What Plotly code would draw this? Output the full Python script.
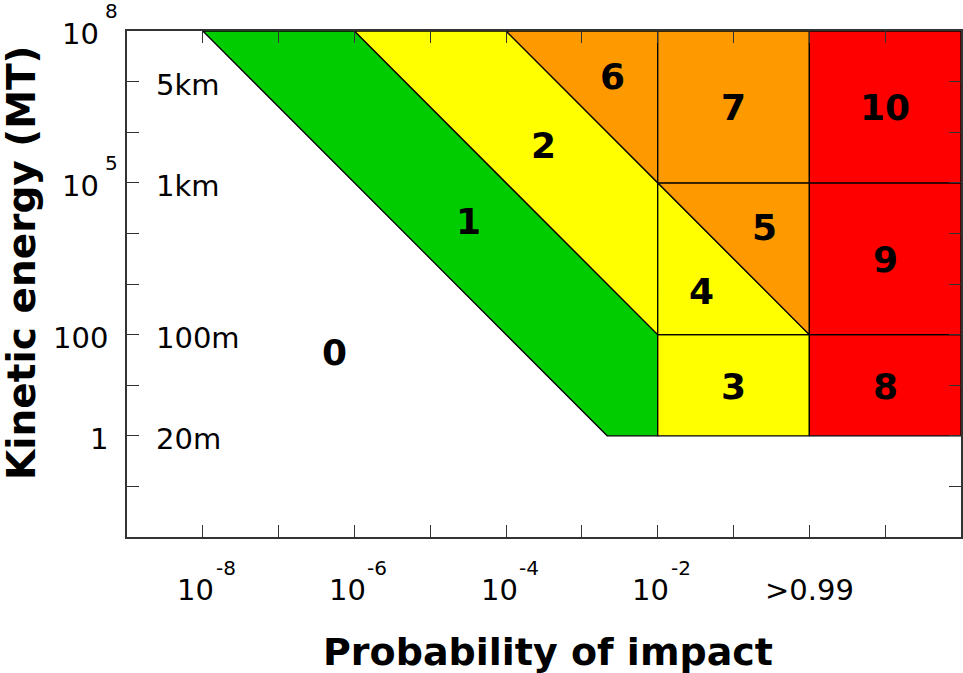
import plotly.graph_objects as go

# Torino scale regions: vertices in log10(probability) and log10(kinetic energy, MT)
levels = [1, 2, 3, 4, 5, 6, 7, 8, 9, 10]
region_logp = [
    [-8, -6, -2, -2, -8 / 3],  # 1
    [-6, -4, -2, -2],          # 2
    [-2, 0, 0, -2],            # 3
    [-2, 0, -2],               # 4
    [-2, 0, 0],                # 5
    [-4, -2, -2],              # 6
    [-2, 0, 0, -2],            # 7
    [0, 2, 2, 0],              # 8
    [0, 2, 2, 0],              # 9
    [0, 2, 2, 0],              # 10
]
region_logE = [
    [8, 8, 2, 0, 0],
    [8, 8, 5, 2],
    [0, 0, 2, 2],
    [5, 2, 2],
    [5, 5, 2],
    [8, 8, 5],
    [5, 5, 8, 8],
    [0, 0, 2, 2],
    [2, 2, 5, 5],
    [5, 5, 8, 8],
]
region_colors = ["#00CC00", "#FFFF00", "#FFFF00", "#FFFF00", "#FF9900",
                 "#FF9900", "#FF9900", "#FF0000", "#FF0000", "#FF0000"]

# label positions for each level (0..10)
label_text = ["0", "1", "2", "3", "4", "5", "6", "7", "8", "9", "10"]
label_logp = [-6.26, -4.5, -3.51, -1.0, -1.42, -0.59, -2.6, -1.0, 1.0, 1.0, 1.0]
label_logE = [1.64, 4.23, 5.73, 0.98, 2.86, 4.11, 7.11, 6.48, 0.98, 3.49, 6.48]

# axis ticks (log10 units)
x_tickvals = [-8, -7, -6, -5, -4, -3, -2, -1, 0, 1, 2]
y_tickvals = [-2, -1, 0, 1, 2, 3, 4, 5, 6, 7, 8]
# labelled x ticks: base and exponent
x_label_vals = [-8, -6, -4, -2]
x_label_exps = ["-8", "-6", "-4", "-2"]
x_plain_vals = [0]
x_plain_text = [">0.99"]
# labelled y ticks
y_pow_vals = [8, 5]
y_pow_exps = ["8", "5"]
y_plain_vals = [2, 0]
y_plain_text = ["100", "1"]

size_text = ["5km", "1km", "100m", "20m"]
size_logE = [7, 5, 2, 0]

FONT = "DejaVu Sans"
fig = go.Figure()
for lv, xs, ys, c in zip(levels, region_logp, region_logE, region_colors):
    fig.add_trace(go.Scatter(
        x=xs + [xs[0]], y=ys + [ys[0]], mode="lines", fill="toself",
        fillcolor=c, line=dict(color="black", width=1.3),
        hoverinfo="skip", showlegend=False, name=str(lv)))

for t, x, y in zip(label_text, label_logp, label_logE):
    fig.add_annotation(x=x, y=y, text="<b>" + t + "</b>", showarrow=False,
                       font=dict(size=36, color="black", family=FONT))

for t, y in zip(size_text, size_logE):
    fig.add_annotation(xref="paper", x=0, xshift=27, xanchor="left", y=y, yshift=-3, text=t,
                       showarrow=False, font=dict(size=29, color="black", family=FONT))

# x tick labels
for v, e in zip(x_label_vals, x_label_exps):
    fig.add_annotation(x=v, xshift=-7, yref="paper", y=-0.1057, xanchor="center",
                       yanchor="middle", text="10", showarrow=False,
                       font=dict(size=29, color="black", family=FONT))
    fig.add_annotation(x=v, xshift=23, yref="paper", y=-0.0613, xanchor="center",
                       yanchor="middle", text=e, showarrow=False,
                       font=dict(size=20, color="black", family=FONT))
for v, t in zip(x_plain_vals, x_plain_text):
    fig.add_annotation(x=v, yref="paper", y=-0.1057, xanchor="center",
                       yanchor="middle", text=t, showarrow=False,
                       font=dict(size=29, color="black", family=FONT))
# y tick labels
for v, e in zip(y_pow_vals, y_pow_exps):
    fig.add_annotation(xref="paper", x=0, xshift=-47, y=v, yshift=-3, xanchor="center",
                       yanchor="middle", text="10", showarrow=False,
                       font=dict(size=29, color="black", family=FONT))
    fig.add_annotation(xref="paper", x=0, xshift=-16, y=v, yshift=20, xanchor="center",
                       yanchor="middle", text=e, showarrow=False,
                       font=dict(size=20, color="black", family=FONT))
for v, t in zip(y_plain_vals, y_plain_text):
    fig.add_annotation(xref="paper", x=0, xshift=-17, y=v, yshift=-3, xanchor="right",
                       yanchor="middle", text=t, showarrow=False,
                       font=dict(size=29, color="black", family=FONT))

fig.add_annotation(xref="paper", yref="paper", x=0.505, y=-0.227, xanchor="center",
                   yanchor="middle", text="<b>Probability of impact</b>", showarrow=False,
                   font=dict(size=38, color="black", family=FONT))
fig.add_annotation(xref="paper", yref="paper", x=0, xshift=-106, y=0.5415,
                   xanchor="center", yanchor="middle", borderpad=0,
                   text="<b>Kinetic energy (MT)</b>", textangle=-90, showarrow=False,
                   font=dict(size=39, color="black", family=FONT))

axis_common = dict(showgrid=False, zeroline=False, showline=True, linecolor="#333333",
                   linewidth=1.5, ticks="inside", ticklen=12, tickcolor="#333333",
                   tickwidth=1.3, mirror="ticks", automargin=False, showticklabels=False)

fig.update_xaxes(range=[-9, 2], tickmode="array", tickvals=x_tickvals, **axis_common)
fig.update_yaxes(range=[-2, 8], tickmode="array", tickvals=y_tickvals, **axis_common)

fig.update_layout(width=963, height=673, margin=dict(l=127, r=2, t=31, b=136, autoexpand=False),
                  plot_bgcolor="white", paper_bgcolor="white",
                  font=dict(family=FONT))
fig.write_html("out.html", config={"displayModeBar": False},
               post_script="document.body.style.margin='0';document.body.style.overflow='hidden';")
